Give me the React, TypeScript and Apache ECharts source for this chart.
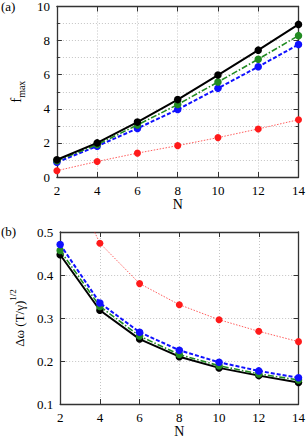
import React, { useEffect, useRef } from "react";
import * as echarts from "echarts";

const N = [2, 4, 6, 8, 10, 12, 14];

// panel (a): f_max
const fmaxBlack = [1.01, 2.0, 3.22, 4.54, 5.98, 7.44, 8.95];
const fmaxGreen = [0.95, 1.9, 3.05, 4.25, 5.57, 6.91, 8.29];
const fmaxBlue = [0.87, 1.81, 2.85, 3.96, 5.2, 6.47, 7.77];
const fmaxRed = [0.37, 0.91, 1.4, 1.84, 2.31, 2.82, 3.36];

// panel (b): Δω (T/γ)^1/2
const dwBlack = [0.447, 0.318, 0.251, 0.21, 0.184, 0.166, 0.15];
const dwGreen = [0.457, 0.327, 0.258, 0.215, 0.189, 0.17, 0.156];
const dwBlue = [0.471, 0.335, 0.267, 0.225, 0.197, 0.177, 0.161];
const dwRed = [0.67, 0.474, 0.38, 0.331, 0.296, 0.269, 0.245];

const xTicks = [2, 4, 6, 8, 10, 12, 14];
const yTicksA = [0, 2, 4, 6, 8, 10];
const yTicksB = [0.1, 0.2, 0.3, 0.4, 0.5];

const FONT = "Liberation Serif";

const styles = {
  black: { color: "#000000", width: 2, type: "solid" as any, size: 7.5 },
  green: { color: "#228b22", width: 1.6, type: [6, 2, 1.5, 2] as any, size: 7.5 },
  blue: { color: "#1010ff", width: 2, type: [4, 2] as any, size: 7.5 },
  red: { color: "#ff1a1a", width: 1, type: [1.5, 1.5] as any, size: 7 },
};

function mk(values: number[], st: any, xi: number, yi: number, z: number) {
  return {
    type: "line",
    xAxisIndex: xi,
    yAxisIndex: yi,
    data: N.map((n, i) => [n, values[i]]),
    symbol: "circle",
    symbolSize: st.size,
    clip: true,
    z,
    itemStyle: { color: st.color },
    lineStyle: { color: st.color, width: st.width, type: st.type, opacity: st === styles.red ? 0.7 : 1 },
  };
}

const splitLine = { show: true, lineStyle: { color: "#c4c4c4", width: 1, type: [1, 2] as any } };
const axisLine = { show: true, onZero: false, lineStyle: { color: "#333", width: 1.3 } };
const labelStyle = { fontFamily: FONT, fontSize: 13, color: "#000" };

function xAxes(gridIndex: number) {
  return [
    {
      type: "value",
      gridIndex,
      min: 2,
      max: 14,
      interval: 2,
      position: "bottom",
      name: "N",
      nameLocation: "middle",
      nameGap: 17,
      nameTextStyle: { fontFamily: FONT, fontSize: 14, color: "#000", verticalAlign: "top" },
      axisLine,
      axisTick: { show: true, inside: true, length: 5, lineStyle: { color: "#333" } },
      axisLabel: { ...labelStyle, margin: 7, formatter: (v: number) => (xTicks.includes(v) ? String(v) : "") },
      splitLine,
    },
    {
      type: "value",
      gridIndex,
      min: 2,
      max: 14,
      interval: 2,
      position: "top",
      axisLine,
      axisTick: { show: true, inside: true, length: 5, lineStyle: { color: "#333" } },
      axisLabel: { show: false },
      splitLine: { show: false },
    },
  ];
}

export default function App() {
  const ref = useRef<HTMLDivElement>(null);
  useEffect(() => {
    if (!ref.current) return;
    const chart = echarts.init(ref.current, null, { renderer: "svg" });
    const option: any = {
      animation: false,
      backgroundColor: "#ffffff",
      textStyle: { fontFamily: FONT },
      grid: [
        { left: 52, right: 6, top: 5, height: 172 },
        { left: 52, right: 6, top: 232, height: 172 },
      ],
      xAxis: [...xAxes(0), ...xAxes(1)],
      yAxis: [
        {
          type: "value",
          gridIndex: 0,
          min: 0,
          max: 10,
          interval: 2,
          position: "left",
          name: "{a|f}{b|max}",
          nameLocation: "middle",
          nameGap: 31,
          nameTextStyle: {
            fontFamily: FONT,
            color: "#000",
            rich: {
              a: { fontFamily: FONT, fontSize: 15, color: "#000", lineHeight: 16, verticalAlign: "top" },
              b: { fontFamily: FONT, fontSize: 10, color: "#000", lineHeight: 10, verticalAlign: "top", padding: [8, 0, 0, 0] },
            },
          },
          axisLine,
          axisTick: { show: true, inside: true, length: 5, lineStyle: { color: "#333" } },
          minorTick: { show: true, splitNumber: 2, length: 3, lineStyle: { color: "#333" } },
          minorSplitLine: splitLine,
          axisLabel: { ...labelStyle, margin: 7, formatter: (v: number) => (yTicksA.includes(v) ? String(v) : "") },
          splitLine,
        },
        {
          type: "value",
          gridIndex: 0,
          min: 0,
          max: 10,
          interval: 2,
          position: "right",
          axisLine,
          axisTick: { show: true, inside: true, length: 5, lineStyle: { color: "#333" } },
          minorTick: { show: true, splitNumber: 2, length: 3, lineStyle: { color: "#333" } },
          axisLabel: { show: false },
          splitLine: { show: false },
        },
        {
          type: "value",
          gridIndex: 1,
          min: 0.1,
          max: 0.5,
          interval: 0.1,
          position: "left",
          name: "{m|Δω (T/γ)}{s|1/2}",
          nameLocation: "middle",
          nameGap: 33,
          nameTextStyle: {
            fontFamily: FONT,
            color: "#000",
            rich: {
              m: { fontFamily: FONT, fontSize: 13, color: "#000", lineHeight: 14, verticalAlign: "top", padding: [5, 0, 0, 0] },
              s: { fontFamily: FONT, fontSize: 9, color: "#000", lineHeight: 9, verticalAlign: "top" },
            },
          },
          axisLine,
          axisTick: { show: true, inside: true, length: 5, lineStyle: { color: "#333" } },
          axisLabel: {
            ...labelStyle,
            margin: 7,
            formatter: (v: number) => {
              const r = Math.round(v * 10) / 10;
              return yTicksB.includes(r) ? r.toFixed(1) : "";
            },
          },
          splitLine,
        },
        {
          type: "value",
          gridIndex: 1,
          min: 0.1,
          max: 0.5,
          interval: 0.1,
          position: "right",
          axisLine,
          axisTick: { show: true, inside: true, length: 5, lineStyle: { color: "#333" } },
          axisLabel: { show: false },
          splitLine: { show: false },
        },
      ],
      graphic: [
        { type: "text", left: 1, top: 0, style: { text: "(a)", fontFamily: FONT, fontSize: 13, fill: "#000" } },
        { type: "text", left: 1, top: 225, style: { text: "(b)", fontFamily: FONT, fontSize: 13, fill: "#000" } },
      ],
      series: [
        mk(fmaxRed, styles.red, 0, 0, 2),
        mk(fmaxBlue, styles.blue, 0, 0, 3),
        mk(fmaxGreen, styles.green, 0, 0, 4),
        mk(fmaxBlack, styles.black, 0, 0, 5),
        mk(dwRed, styles.red, 2, 2, 2),
        mk(dwBlack, styles.black, 2, 2, 3),
        mk(dwGreen, styles.green, 2, 2, 4),
        mk(dwBlue, styles.blue, 2, 2, 5),
      ],
    };
    chart.setOption(option);
    return () => chart.dispose();
  }, []);
  return (
    <div
      ref={ref}
      style={{ position: "absolute", left: 0, top: 0, width: 308, height: 440, background: "#fff" }}
    />
  );
}
